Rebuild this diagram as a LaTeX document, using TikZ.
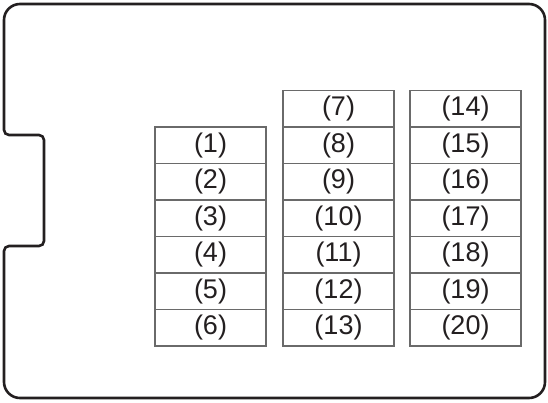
\documentclass[tikz,border=0pt]{standalone}
\usepackage{fontspec}
\setmainfont{Liberation Sans}
\definecolor{boxgray}{HTML}{6A6A6A}
\definecolor{inkblack}{HTML}{231F20}

\begin{document}
\begin{tikzpicture}[x=1pt,y=-1pt,node distance=36.5pt,
				thin,main node/.style = {rectangle,draw=boxgray,line width=1.1pt,inner sep = 0pt,
				minimum width = 111pt, minimum height = 36.5pt,text=inkblack,
				font=\fontsize{27}{30}\selectfont},
				outline/.style = {draw=inkblack,line width=2.6pt}]
				\useasboundingbox (0,0) rectangle (548,402);
				
				% housing with the notch on the left
				\draw[outline] (4,300) [rounded corners=16pt] -- (4,398) -- (545,398) -- (545,4) -- (4,4) -- (4,60)
				[rounded corners=5pt] -- (4,135) -- (44,135) -- (44,246) -- (4,246) -- cycle;
				
				\node[main node] at (210.5,145.25) (1) {(1)};
				\node[main node] [below of = 1](2) {(2)};
				\node[main node] [below of = 2](3) {(3)};
				\node[main node] [below of = 3](4) {(4)};
				\node[main node] [below of = 4](5) {(5)};
				\node[main node] [below of = 5](6) {(6)};
				
				\node[main node] at (338.5,108.75) (7) {(7)};
				\node[main node] [below of = 7](8) {(8)};
				\node[main node] [below of = 8](9) {(9)};
				\node[main node] [below of = 9](10) {(10)};
				\node[main node] [below of = 10](11) {(11)};
				\node[main node] [below of = 11](12) {(12)};
				\node[main node] [below of = 12](13) {(13)};
				
				\node[main node] at (465.5,108.75) (14) {(14)};
				\node[main node] [below of = 14](15) {(15)};
				\node[main node] [below of = 15](16) {(16)};
				\node[main node] [below of = 16](17) {(17)};
				\node[main node] [below of = 17](18) {(18)};
				\node[main node] [below of = 18](19) {(19)};
				\node[main node] [below of = 19](20) {(20)};
\end{tikzpicture}
\end{document}
